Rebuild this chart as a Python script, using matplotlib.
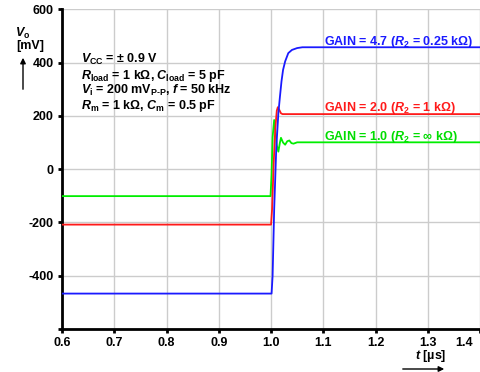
import matplotlib
matplotlib.use("Agg")
import matplotlib.pyplot as plt
from matplotlib.transforms import ScaledTranslation

plt.rcParams['font.family'] = ['Liberation Sans', 'DejaVu Sans']
plt.rcParams['mathtext.fontset'] = 'custom'
plt.rcParams['mathtext.rm'] = 'Liberation Sans:bold'
plt.rcParams['mathtext.it'] = 'Liberation Sans:bold:italic'
plt.rcParams['mathtext.bf'] = 'Liberation Sans:bold'

# Data (time in µs, output voltage in mV)
t_green = [0.6, 0.999, 1.001, 1.003, 1.006, 1.008, 1.011, 1.014, 1.017, 1.019, 1.023, 1.027, 1.031, 1.035, 1.039, 1.043, 1.05, 1.4]
v_green = [-101, -101, -20, 120, 185, 150, 90, 66, 100, 118, 100, 92, 105, 108, 98, 96, 101, 101]

t_red = [0.6, 1.0, 1.002, 1.005, 1.008, 1.011, 1.013, 1.016, 1.019, 1.022, 1.4]
v_red = [-208, -208, -150, 20, 150, 220, 233, 222, 210, 207, 207]

t_blue = [0.6, 1.001, 1.003, 1.006, 1.010, 1.014, 1.017, 1.020, 1.023, 1.027, 1.033, 1.040, 1.050, 1.060, 1.070, 1.4]
v_blue = [-467, -467, -400, -150, 80, 210, 272, 330, 373, 405, 436, 448, 455, 458, 458, 458]

x_ticks = [0.6, 0.7, 0.8, 0.9, 1.0, 1.1, 1.2, 1.3, 1.4]
x_ticklabels = ['0.6', '0.7', '0.8', '0.9', '1.0', '1.1', '1.2', '1.3', '1.4']
y_ticks = [-600, -400, -200, 0, 200, 400, 600]
y_ticklabels = ['', '-400', '-200', '0', '200', '400', '600']

fig = plt.figure(figsize=(4.81, 3.72), dpi=100)
ax = fig.add_axes([0.129, 0.1156, 0.869, 0.859])

ax.plot(t_green, v_green, color='#00ee00', lw=1.3, zorder=3)
ax.plot(t_red, v_red, color='#ff1a1a', lw=1.3, zorder=4)
ax.plot(t_blue, v_blue, color='#1a1aff', lw=1.3, zorder=5)

ax.set_xlim(0.6, 1.4)
ax.set_ylim(-600, 600)
ax.set_xticks(x_ticks)
ax.set_xticklabels(x_ticklabels, fontweight='bold', fontsize=9)
ax.set_yticks(y_ticks)
ax.set_yticklabels(y_ticklabels, fontweight='bold', fontsize=9)
ax.grid(True, color='#cccccc', lw=1)
ax.set_axisbelow(True)
for s in ['top', 'right']:
    ax.spines[s].set_visible(False)
for s in ['left', 'bottom']:
    ax.spines[s].set_linewidth(2)
ax.tick_params(direction='out', length=3, width=2, pad=3)

# annotation block
lines = [
    r'$V_{\mathrm{CC}}$ = ± 0.9 V',
    r'$R_{\mathrm{load}}$ = 1 kΩ, $C_{\mathrm{load}}$ = 5 pF',
    r'$V_{\mathrm{i}}$ = 200 mV$_{\mathrm{P\text{-}P}}$, $f$ = 50 kHz',
    r'$R_{\mathrm{m}}$ = 1 kΩ, $C_{\mathrm{m}}$ = 0.5 pF',
]
ys = [0.842, 0.792, 0.745, 0.698]
for s, yy in zip(lines, ys):
    ax.text(0.045, yy, s, transform=ax.transAxes, fontsize=9, fontweight='bold', va='center')

ax.text(1.102, 478, r'GAIN = 4.7 ($R_2$ = 0.25 kΩ)', color='#1a1aff', fontsize=9, fontweight='bold', va='center')
ax.text(1.102, 230, r'GAIN = 2.0 ($R_2$ = 1 kΩ)', color='#ff1a1a', fontsize=9, fontweight='bold', va='center')
ax.text(1.102, 121, r'GAIN = 1.0 ($R_2$ = ∞ kΩ)', color='#00dd00', fontsize=9, fontweight='bold', va='center')

# axis labels
fig.text(15/481, 1-33/372, r'$V_{\mathrm{o}}$', fontsize=9, fontweight='bold', va='center', ha='left')
fig.text(16/481, 1-46/372, '[mV]', fontsize=9, fontweight='bold', va='center', ha='left')
fig.add_artist(matplotlib.patches.FancyArrowPatch((23/481, 1-92/372), (23/481, 1-55/372),
               transform=fig.transFigure, arrowstyle='-|>', mutation_scale=8, color='black', lw=1))
fig.text(431/481, 1-356/372, r'$t$ [µs]', fontsize=9, fontweight='bold', va='center', ha='center')
fig.add_artist(matplotlib.patches.FancyArrowPatch((400/481, 1-369/372), (447/481, 1-369/372),
               transform=fig.transFigure, arrowstyle='-|>', mutation_scale=8, color='black', lw=1))

fig.canvas.draw()
last = ax.xaxis.get_major_ticks()[-1].label1
last.set_horizontalalignment('right')
last.set_transform(last.get_transform() + ScaledTranslation(-7/100, 0, fig.dpi_scale_trans))

fig.savefig('out.png', dpi=100)
